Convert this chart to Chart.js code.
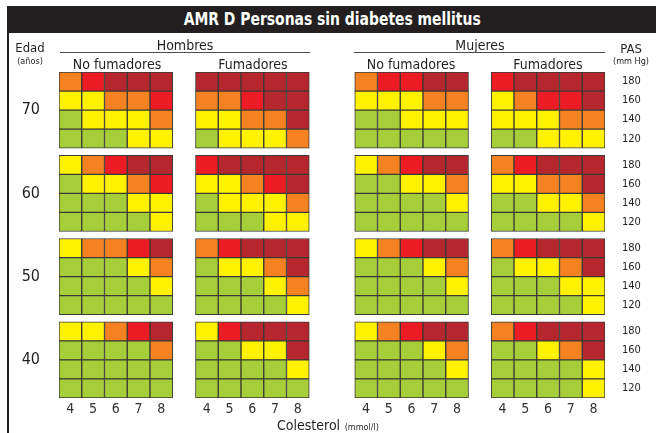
<!DOCTYPE html>
<html>
<head>
<meta charset="utf-8">
<script src="https://cdn.jsdelivr.net/npm/chart.js@4.4.1/dist/chart.umd.min.js"></script>
<style>
  html, body { margin: 0; padding: 0; background: #fff; }
  #wrap {
    position: relative; width: 656px; height: 433px; overflow: hidden;
    font-family: "DejaVu Sans Condensed", "DejaVu Sans", sans-serif; color: #231f20;
  }
  #chart { position: absolute; left: 0; top: 0; }
  .t { position: absolute; white-space: nowrap; line-height: 1; transform: translate(-50%, -50%); }
  .small { font-size: 9px; }
  .hdr { font-size: 14px; }
  .rule { position: absolute; height: 1px; background: #4d4d4d; }
  #titlebar {
    position: absolute; left: 8px; top: 6px; width: 648px; height: 27px; background: #231f20;
    color: #fff; font-weight: bold; font-size: 17px; line-height: 27px; text-align: center;
  }
  #titlebar span { display: inline-block; transform: scaleX(0.91); }
  #leftline { position: absolute; left: 7px; top: 6px; width: 2px; height: 427px; background: #231f20; }
</style>
</head>
<body>
<div id="wrap">
  <canvas id="chart" width="656" height="433"></canvas>
  <div id="leftline"></div>
  <div id="titlebar"><span>AMR D Personas sin diabetes mellitus</span></div>

  <div class="t" style="left:30px; top:47px; font-size:13px;">Edad</div>
  <div class="t small" style="left:30px; top:61px;">(años)</div>
  <div class="t" style="left:631px; top:48px; font-size:13px;">PAS</div>
  <div class="t small" style="left:631px; top:61px;">(mm Hg)</div>

  <div class="t hdr" style="left:185px; top:45px;">Hombres</div>
  <div class="rule" style="left:60px; top:52px; width:250px;"></div>
  <div class="t hdr" style="left:480px; top:45px;">Mujeres</div>
  <div class="rule" style="left:354px; top:52px; width:251px;"></div>

  <div class="t hdr" style="left:117px; top:64px;">No fumadores</div>
  <div class="t hdr" style="left:253px; top:64px;">Fumadores</div>
  <div class="t hdr" style="left:411px; top:64px;">No fumadores</div>
  <div class="t hdr" style="left:548px; top:64px;">Fumadores</div>

  <div class="t" style="left:328px; top:425px;"><span class="hdr">Colesterol</span> <span class="small">(mmol/l)</span></div>
</div>

<script>
// age bands (rows of blocks), systolic blood pressure rows, cholesterol columns
const ages = [70, 60, 50, 40];
const sbp = [180, 160, 140, 120];
const cholesterol = [4, 5, 6, 7, 8];

// risk level per cell: 0 <10%, 1 10-<20%, 2 20-<30%, 3 30-<40%, 4 >=40%
// per age (70,60,50,40), rows by SBP 180..120, columns by cholesterol 4..8
const menNonSmokers = [
  [[2,3,4,4,4],[1,1,2,2,3],[0,1,1,1,2],[0,0,0,1,1]],
  [[1,2,3,4,4],[0,1,1,2,3],[0,0,0,1,1],[0,0,0,0,1]],
  [[1,2,2,3,4],[0,0,0,1,2],[0,0,0,0,1],[0,0,0,0,0]],
  [[1,1,2,3,4],[0,0,0,0,2],[0,0,0,0,0],[0,0,0,0,0]],
];
const menSmokers = [
  [[4,4,4,4,4],[2,2,3,4,4],[1,1,2,2,4],[0,1,1,1,2]],
  [[3,4,4,4,4],[1,1,2,3,4],[0,1,1,1,2],[0,0,0,1,1]],
  [[2,3,4,4,4],[0,1,1,2,4],[0,0,0,1,2],[0,0,0,0,1]],
  [[1,3,4,4,4],[0,0,1,1,4],[0,0,0,0,1],[0,0,0,0,0]],
];
const womenNonSmokers = [
  [[2,3,3,4,4],[1,1,1,2,2],[0,0,1,1,1],[0,0,0,0,0]],
  [[1,2,3,4,4],[0,0,1,1,2],[0,0,0,0,1],[0,0,0,0,0]],
  [[1,2,3,4,4],[0,0,0,1,2],[0,0,0,0,1],[0,0,0,0,0]],
  [[1,2,3,4,4],[0,0,0,1,2],[0,0,0,0,1],[0,0,0,0,0]],
];
const womenSmokers = [
  [[3,4,4,4,4],[1,2,3,3,4],[1,1,1,2,2],[0,0,1,1,1]],
  [[2,3,4,4,4],[1,1,2,2,4],[0,0,1,1,2],[0,0,0,0,1]],
  [[2,3,4,4,4],[0,1,1,2,4],[0,0,0,1,1],[0,0,0,0,1]],
  [[2,3,4,4,4],[0,0,1,2,4],[0,0,0,0,1],[0,0,0,0,1]],
];

const riskColors = ["#a6ce39", "#fff200", "#f58220", "#ed1c24", "#b5262e"];

// layout: column where each group starts (gaps between blocks), vertical step per age block
const groups = [menNonSmokers, menSmokers, womenNonSmokers, womenSmokers];
const groupStartCol = [0, 6, 13, 19];
const blockStep = 4.37;

const cells = [];
groups.forEach((grid, g) => {
  grid.forEach((block, b) => {
    block.forEach((row, r) => {
      row.forEach((level, c) => {
        const top = b * blockStep + r;
        cells.push({ x: groupStartCol[g] + c, y: [top, top + 1], level: level });
      });
    });
  });
});

const xTicks = [];
groupStartCol.forEach((start) => {
  cholesterol.forEach((v, c) => xTicks.push({ value: start + c, label: v }));
});
const ageTicks = ages.map((a, b) => ({ value: b * blockStep + 2, label: a }));
const sbpTicks = [];
ages.forEach((a, b) => {
  sbp.forEach((p, r) => sbpTicks.push({ value: b * blockStep + r + 0.5, label: p }));
});

const yMax = 3 * blockStep + 4;
const noGrid = { display: false, drawTicks: false };

Chart.defaults.font.family = '"DejaVu Sans Condensed", "DejaVu Sans", sans-serif';
Chart.defaults.color = "#231f20";

new Chart(document.getElementById("chart"), {
  type: "bar",
  data: {
    datasets: [{
      data: cells,
      yAxisID: "yAge",
      backgroundColor: (ctx) => riskColors[ctx.raw ? ctx.raw.level : 0],
      borderColor: "#3a3a34",
      borderWidth: 1,
      borderSkipped: false,
      barPercentage: 1,
      categoryPercentage: 1,
    }],
  },
  options: {
    responsive: false,
    animation: false,
    layout: { padding: { left: 8, right: 0, top: 72, bottom: 0 } },
    plugins: { legend: { display: false }, tooltip: { enabled: false } },
    scales: {
      x: {
        type: "linear",
        offset: false,
        min: -0.5,
        max: 23.5,
        grid: noGrid,
        border: { display: false },
        afterBuildTicks: (axis) => { axis.ticks = xTicks.map((t) => ({ value: t.value })); },
        afterFit: (axis) => { axis.height = 35; },
        ticks: {
          autoSkip: false,
          maxRotation: 0,
          padding: 3,
          color: "#333",
          font: { size: 14 },
          callback: (v, i) => xTicks[i].label,
        },
      },
      yAge: {
        type: "linear",
        position: "left",
        reverse: true,
        min: 0,
        max: yMax,
        grid: noGrid,
        border: { display: false },
        afterBuildTicks: (axis) => { axis.ticks = ageTicks.map((t) => ({ value: t.value })); },
        afterFit: (axis) => { axis.width = 51; },
        ticks: {
          padding: 19,
          font: { size: 16 },
          callback: (v, i) => ageTicks[i].label,
        },
      },
      ySbp: {
        type: "linear",
        position: "right",
        reverse: true,
        min: 0,
        max: yMax,
        grid: noGrid,
        border: { display: false },
        afterBuildTicks: (axis) => { axis.ticks = sbpTicks.map((t) => ({ value: t.value })); },
        afterFit: (axis) => { axis.width = 51; },
        ticks: {
          autoSkip: false,
          padding: 17,
          font: { size: 11 },
          callback: (v, i) => sbpTicks[i].label,
        },
      },
    },
  },
});
</script>
</body>
</html>
